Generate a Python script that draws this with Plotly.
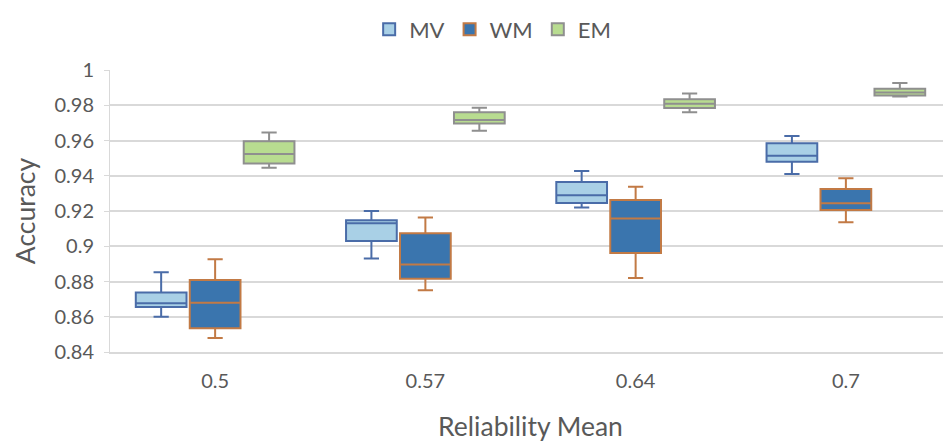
import plotly.graph_objects as go

categories = ["0.5", "0.57", "0.64", "0.7"]

mv_low = [0.860, 0.893, 0.922, 0.941]
mv_q1 = [0.8655, 0.903, 0.9245, 0.948]
mv_med = [0.8677, 0.913, 0.929, 0.9514]
mv_q3 = [0.8737, 0.9148, 0.9365, 0.9584]
mv_high = [0.8852, 0.920, 0.9427, 0.9626]

wm_low = [0.848, 0.875, 0.882, 0.9136]
wm_q1 = [0.8535, 0.8815, 0.8961, 0.9206]
wm_med = [0.868, 0.8896, 0.9157, 0.9244]
wm_q3 = [0.8809, 0.9074, 0.9263, 0.9325]
wm_high = [0.8926, 0.9163, 0.9337, 0.9386]

em_low = [0.9446, 0.9656, 0.976, 0.9849]
em_q1 = [0.9469, 0.9696, 0.9785, 0.9856]
em_med = [0.9524, 0.9717, 0.9809, 0.9873]
em_q3 = [0.9596, 0.976, 0.9834, 0.9894]
em_high = [0.9645, 0.9786, 0.9866, 0.9926]

series = [
    ("MV", mv_low, mv_q1, mv_med, mv_q3, mv_high, "#a9d0e6", "#4a6ca8"),
    ("WM", wm_low, wm_q1, wm_med, wm_q3, wm_high, "#3a75ae", "#c27a45"),
    ("EM", em_low, em_q1, em_med, em_q3, em_high, "#b8dc90", "#8f8f8f"),
]

fig = go.Figure()
for name, lo, q1, med, q3, hi, fill, line in series:
    fig.add_trace(go.Box(
        name=name, x=categories, lowerfence=lo, q1=q1, median=med, q3=q3, upperfence=hi,
        fillcolor=fill, line=dict(color=line, width=2), whiskerwidth=0.3,
        boxpoints=False, hoverinfo="skip",
    ))

font_family = "Lato, 'Open Sans', sans-serif"
fig.update_layout(
    width=943, height=438,
    margin=dict(l=102, r=0, t=62, b=94, autoexpand=False),
    paper_bgcolor="white", plot_bgcolor="white",
    boxmode="group", boxgap=0.23, boxgroupgap=0.06,
    font=dict(family=font_family, color="#595959", size=20),
    legend=dict(orientation="h", x=0.455, xanchor="center", y=1.218, yanchor="top",
                font=dict(size=22, color="#595959"), itemwidth=30, traceorder="normal"),
    showlegend=True,
)
fig.update_xaxes(
    type="category", showline=True, linecolor="#d9d9d9", linewidth=2,
    showgrid=False, ticks="", tickfont=dict(size=20), ticklabelstandoff=10,
    title=dict(text="Reliability Mean", font=dict(size=26.5), standoff=26),
)
fig.update_yaxes(
    range=[0.84, 1.0], dtick=0.02, tickformat="~g",
    showgrid=True, gridcolor="#d9d9d9", gridwidth=2,
    showline=True, linecolor="#d9d9d9", linewidth=1,
    ticks="outside", ticklen=5, tickcolor="#d9d9d9", ticklabelstandoff=6,
    tickfont=dict(size=20), zeroline=False,
    title=dict(text="Accuracy", font=dict(size=26.5), standoff=11),
)
fig.write_html("out.html")
